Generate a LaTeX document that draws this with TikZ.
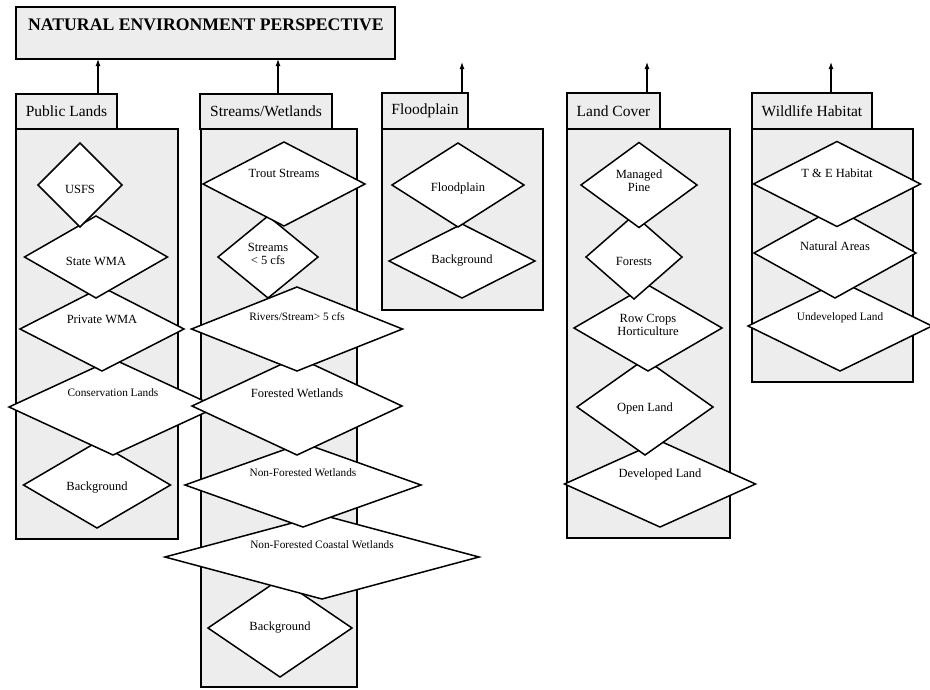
\documentclass[tikz,border=0pt]{standalone}
\usepackage{fontspec}
\setmainfont{Liberation Serif}
\usetikzlibrary{shapes.geometric,arrows.meta}

\begin{document}
\begin{tikzpicture}[x=1pt,y=-1pt,
  panel/.style={draw, line width=1.5pt, fill=black!7, inner sep=0pt, outer sep=0pt, anchor=north west},
  tabbox/.style={panel, font=\fontsize{15.5}{17}\selectfont},
  dia/.style={diamond, draw, line width=1.5pt, fill=white, inner sep=0pt, outer sep=0pt},
  dlbl/.style={inner sep=0pt, align=center, font=\fontsize{12.5}{14}\selectfont},
  slbl/.style={inner sep=0pt, align=center, font=\fontsize{11.3}{13}\selectfont},
  uparrow/.style={line width=1.2pt, -{Latex[length=7pt,width=5pt]}}
]
\useasboundingbox (0,0) rectangle (930,689);

% title box
\node[panel, minimum width=379, minimum height=52] (title) at (16,7) {};
\node[anchor=base, inner sep=0pt, font=\bfseries\fontsize{17.7}{20}\selectfont] (titletext) at (206,30) {NATURAL ENVIRONMENT PERSPECTIVE};

% category panels: body first, then tab
\node[panel, minimum width=162, minimum height=410] (bPL) at (16,129) {};
\node[tabbox, minimum width=101, minimum height=35] (tPL) at (16,94) {Public Lands};

\node[panel, minimum width=156, minimum height=558] (bSW) at (201,129) {};
\node[tabbox, minimum width=132, minimum height=35] (tSW) at (200,94) {Streams/Wetlands};

\node[panel, minimum width=161, minimum height=181] (bFP) at (382,129) {};
\node[tabbox, minimum width=86, minimum height=36] (tFP) at (382,93) {Floodplain};

\node[panel, minimum width=163, minimum height=409] (bLC) at (567,129) {};
\node[tabbox, minimum width=93, minimum height=36] (tLC) at (567,93) {Land Cover};

\node[panel, minimum width=161, minimum height=253] (bWH) at (752,129) {};
\node[tabbox, minimum width=120, minimum height=36] (tWH) at (752,93) {Wildlife Habitat};

% arrows up to the perspective
\coordinate (aPL) at (98,94);
\coordinate (aSW) at (278,94);
\coordinate (aFP) at (462,93);
\coordinate (aLC) at (647,93);
\coordinate (aWH) at (831,93);
\coordinate (eFP) at (462,62);
\coordinate (eLC) at (647,62);
\coordinate (eWH) at (831,62);
\draw[uparrow] (aPL) -- (aPL |- title.south);
\draw[uparrow] (aSW) -- (aSW |- title.south);
\draw[uparrow] (aFP) -- (eFP);
\draw[uparrow] (aLC) -- (eLC);
\draw[uparrow] (aWH) -- (eWH);

% Public Lands (lower diamonds first, upper ones overlap them)
\node[dia, minimum width=147, minimum height=86] (pl5) at (97,485) {};
\node[dlbl] (pl5t) at (97,488) {Background};
\node[dia, minimum width=208, minimum height=96] (pl4) at (113,407) {};
\node[slbl] (pl4t) at (113,393) {Conservation Lands};
\node[dia, minimum width=164, minimum height=84] (pl3) at (102,329) {};
\node[dlbl] (pl3t) at (102,319) {Private WMA};
\node[dia, minimum width=143, minimum height=82] (pl2) at (96,257) {};
\node[dlbl] (pl2t) at (96,261) {State WMA};
\node[dia, minimum width=84, minimum height=84] (pl1) at (80,185) {};
\node[dlbl] (pl1t) at (80,189) {USFS};

% Streams/Wetlands
\node[dia, minimum width=144, minimum height=98] (sw7) at (280,628) {};
\node[dlbl] (sw7t) at (280,628) {Background};
\node[dia, minimum width=314, minimum height=84] (sw6) at (322,557) {};
\node[slbl] (sw6t) at (322,545) {Non-Forested Coastal Wetlands};
\node[dia, minimum width=236, minimum height=84] (sw5) at (303,485) {};
\node[slbl] (sw5t) at (303,473) {Non-Forested Wetlands};
\node[dia, minimum width=210, minimum height=98] (sw4) at (297,406) {};
\node[dlbl] (sw4t) at (297,393) {Forested Wetlands};
\node[dia, minimum width=211, minimum height=84] (sw3) at (297,329) {};
\node[slbl] (sw3t) at (297,317) {Rivers/Stream> 5 cfs};
\node[dia, minimum width=100, minimum height=82] (sw2) at (268,257) {};
\node[dlbl] (sw2t) at (268,254) {Streams\\[-1pt]< 5 cfs};
\node[dia, minimum width=162, minimum height=84] (sw1) at (284,184) {};
\node[dlbl] (sw1t) at (284,173) {Trout Streams};

% Floodplain
\node[dia, minimum width=146, minimum height=74] (fp2) at (462,261) {};
\node[dlbl] (fp2t) at (462,261) {Background};
\node[dia, minimum width=132, minimum height=84] (fp1) at (458,185) {};
\node[dlbl] (fp1t) at (458,188) {Floodplain};

% Land Cover
\node[dia, minimum width=191, minimum height=86] (lc5) at (660,484) {};
\node[dlbl] (lc5t) at (660,474) {Developed Land};
\node[dia, minimum width=136, minimum height=96] (lc4) at (645,407) {};
\node[dlbl] (lc4t) at (645,408) {Open Land};
\node[dia, minimum width=148, minimum height=86] (lc3) at (648,328) {};
\node[dlbl] (lc3t) at (648,325) {Row Crops\\[-1pt]Horticulture};
\node[dia, minimum width=96, minimum height=84] (lc2) at (634,257) {};
\node[dlbl] (lc2t) at (634,261) {Forests};
\node[dia, minimum width=116, minimum height=85] (lc1) at (639,185) {};
\node[dlbl] (lc1t) at (639,181) {Managed\\[-1pt]Pine};

% Wildlife Habitat
\node[dia, minimum width=184, minimum height=90] (wh3) at (840,326) {};
\node[slbl] (wh3t) at (840,318) {Undeveloped Land};
\node[dia, minimum width=162, minimum height=90] (wh2) at (835,253) {};
\node[dlbl] (wh2t) at (835,246) {Natural Areas};
\node[dia, minimum width=167, minimum height=85] (wh1) at (837,184) {};
\node[dlbl] (wh1t) at (837,173) {T \& E Habitat};
\end{tikzpicture}
\end{document}
